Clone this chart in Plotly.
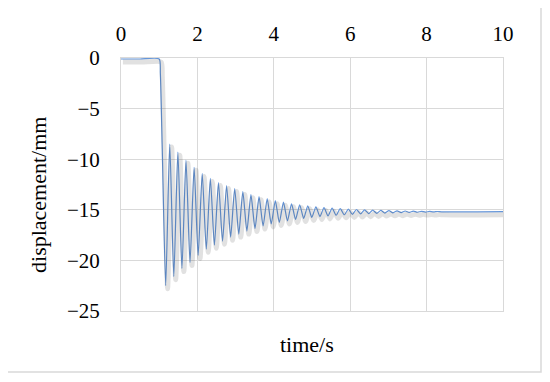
import plotly.graph_objects as go

# pontos: trecho inicial + extremos (picos / vales) da oscilacao
t_ini = [0.0, 0.5, 1.0, 1.03, 1.08]
d_ini = [-0.1, -0.1, -0.1, -1.5, -9.0]

t_ext = [1.170, 1.276, 1.382, 1.489, 1.595, 1.701, 1.807, 1.914, 2.020, 2.126,
         2.233, 2.339, 2.445, 2.551, 2.658, 2.764, 2.870, 2.976, 3.083, 3.189,
         3.295, 3.401, 3.508, 3.614, 3.720, 3.827, 3.933, 4.039, 4.145, 4.252,
         4.358, 4.464, 4.570, 4.677, 4.783, 4.889, 4.995, 5.102, 5.208, 5.314,
         5.420, 5.527, 5.633, 5.739, 5.845, 5.952, 6.058, 6.164, 6.270, 6.377,
         6.483, 6.589, 6.695, 6.802, 6.908, 7.014, 7.120, 7.227, 7.333, 7.439,
         7.545, 7.652, 7.758, 7.864, 7.970, 8.077, 8.183, 8.289, 8.395]
d_ext = [-22.5, -8.5, -21.6, -9.3, -20.8, -10.1, -20.2, -10.8, -19.5, -11.4,
         -18.9, -11.9, -18.5, -12.3, -18.1, -12.6, -17.7, -12.9, -17.4, -13.2,
         -17.1, -13.5, -16.85, -13.7, -16.6, -13.9, -16.4, -14.1, -16.25, -14.25,
         -16.1, -14.4, -15.95, -14.5, -15.85, -14.6, -15.75, -14.7, -15.67, -14.78,
         -15.6, -14.84, -15.54, -14.89, -15.49, -14.93, -15.45, -14.97, -15.41, -15.0,
         -15.38, -15.03, -15.35, -15.06, -15.32, -15.08, -15.3, -15.1, -15.28, -15.12,
         -15.26, -15.13, -15.24, -15.15, -15.22, -15.16, -15.21, -15.17, -15.2]

t_fim = [10.0]
d_fim = [-15.18]

tempo = t_ini + t_ext + t_fim
desloc = d_ini + d_ext + d_fim

fonte = "Liberation Serif"
cinza = "#D9D9D9"

fig = go.Figure()

# sombra (estilo excel) num eixo sobreposto levemente deslocado
fig.add_trace(go.Scatter(x=tempo, y=desloc, mode="lines", xaxis="x2", yaxis="y2",
                         line=dict(color="rgba(40,40,40,0.14)", width=5, shape="spline", smoothing=0.6),
                         hoverinfo="skip", showlegend=False))
fig.add_trace(go.Scatter(x=tempo, y=desloc, mode="lines",
                         line=dict(color="#6596DA", width=1.2, shape="spline", smoothing=0.6),
                         showlegend=False))

# a pagina tem 8px de margem no body, por isso as margens ja descontam isso
fig.update_layout(
    width=550, height=382,
    margin=dict(l=113, r=55, t=50, b=79),
    paper_bgcolor="white", plot_bgcolor="white",
    font=dict(family=fonte, size=21, color="black"),
    xaxis=dict(range=[0, 10], dtick=2, side="top", showgrid=True, gridcolor=cinza, gridwidth=1,
               zeroline=False, showline=True, linecolor=cinza, mirror=True, ticks="",
               ticklabelstandoff=8, automargin=False,
               tickfont=dict(family=fonte, size=21)),
    yaxis=dict(range=[-25, 0], dtick=5, showgrid=True, gridcolor=cinza, gridwidth=1,
               zeroline=False, showline=True, linecolor=cinza, mirror=True, ticks="",
               ticklabelstandoff=16, automargin=False,
               tickfont=dict(family=fonte, size=21)),
    xaxis2=dict(range=[-0.05, 9.95], overlaying="x", visible=False),
    yaxis2=dict(range=[-24.7, 0.3], overlaying="y", visible=False),
    annotations=[
        dict(text="time/s", x=0.487, y=-0.134, xref="paper", yref="paper",
             xanchor="center", yanchor="middle", showarrow=False, font=dict(size=22)),
        dict(text="displacement/mm", x=-0.2147, y=0.4585, xref="paper", yref="paper",
             xanchor="center", yanchor="middle", showarrow=False, textangle=-90,
             font=dict(size=22)),
    ],
    shapes=[dict(type="rect", xref="paper", yref="paper", x0=-0.2984, x1=1.0995,
                 y0=-0.2411, y1=1.2016, line=dict(color=cinza, width=1.5), layer="below")],
)

fig.write_html("out.html")
